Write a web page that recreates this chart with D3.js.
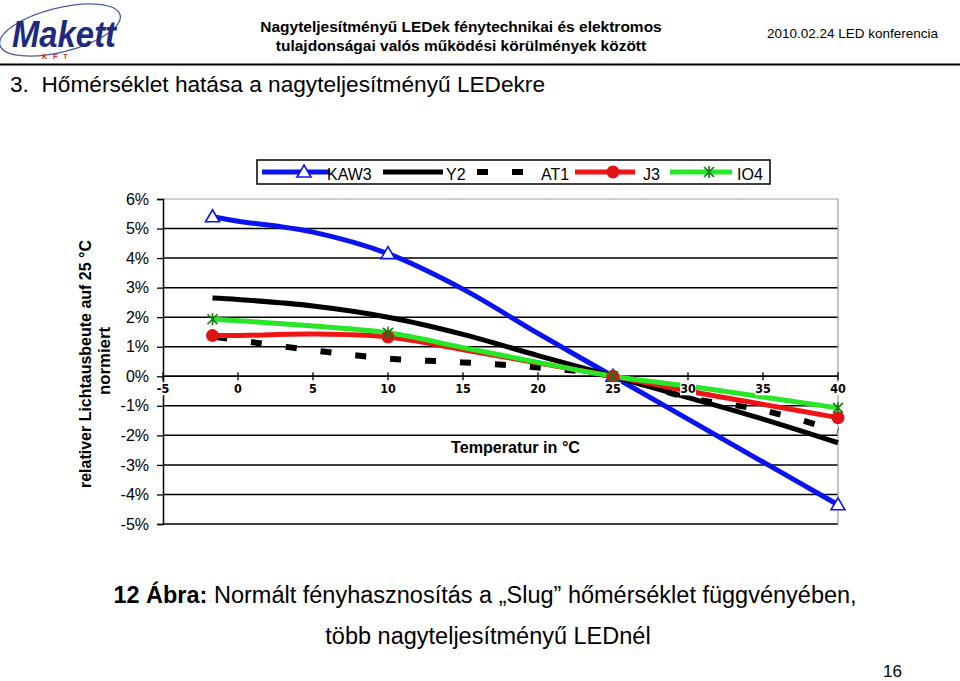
<!DOCTYPE html>
<html>
<head>
<meta charset="utf-8">
<script src="https://cdn.jsdelivr.net/npm/d3@7/dist/d3.min.js"></script>
<style>
  body { margin: 0; background: #fff; overflow: hidden; }
  svg { font-family: "Liberation Sans", Arial, sans-serif; }
</style>
</head>
<body>
<svg width="960" height="681"></svg>
<script>
// values (percent, relative to 25 °C)
const temps = [-1.7, 0, 5, 10, 15, 20, 25, 30, 35, 40];
const kaw3 = [5.4, 5.25, 4.88, 4.15, 2.95, 1.45, 0, -1.45, -2.9, -4.35];
const y2   = [2.65, 2.6, 2.38, 2.0, 1.42, 0.7, 0, -0.72, -1.45, -2.25];
const at1  = [1.35, 1.22, 0.88, 0.6, 0.47, 0.3, 0, -0.72, -1.15, -1.85];
const j3   = [1.38, 1.38, 1.43, 1.33, 0.9, 0.45, 0, -0.5, -0.95, -1.4];
const io4  = [1.93, 1.88, 1.7, 1.47, 0.97, 0.47, 0, -0.33, -0.7, -1.07];
const markerTemps = [-1.7, 10, 25, 40];
const xTicks = [-5, 0, 5, 10, 15, 20, 25, 30, 35, 40];
const yTicks = [-5, -4, -3, -2, -1, 0, 1, 2, 3, 4, 5, 6];

const series = [
  { name: "KAW3", values: kaw3, color: "#0a14f0", marker: "triangle" },
  { name: "Y2", values: y2, color: "#000", marker: null },
  { name: "AT1", values: at1, color: "#000", marker: null, dash: "11,24" },
  { name: "J3", values: j3, color: "#f01414", marker: "circle" },
  { name: "IO4", values: io4, color: "#28e628", marker: "star" }
];

const svg = d3.select("svg");

// ---- header ----
const logo = svg.append("g");
logo.append("ellipse")
  .attr("cx", 60).attr("cy", 30).attr("rx", 62).attr("ry", 22)
  .attr("transform", "rotate(-14,60,30)")
  .attr("fill", "none").attr("stroke", "#4a5aa8").attr("stroke-width", 1.3);
logo.append("text")
  .attr("x", 12).attr("y", 47)
  .attr("font-size", 36).attr("font-weight", "bold").attr("font-style", "italic")
  .attr("fill", "#1e2a80").attr("textLength", 104).attr("lengthAdjust", "spacingAndGlyphs")
  .text("Makett");
logo.append("text")
  .attr("x", 42).attr("y", 59).attr("font-size", 7).attr("font-weight", "bold")
  .attr("fill", "#e02020").attr("letter-spacing", 6)
  .text("KFT");

svg.append("text").attr("x", 461).attr("y", 32).attr("text-anchor", "middle")
  .attr("font-size", 15.5).attr("font-weight", "bold")
  .text("Nagyteljesítményű LEDek fénytechnikai és elektromos");
svg.append("text").attr("x", 461).attr("y", 51).attr("text-anchor", "middle")
  .attr("font-size", 15.5).attr("font-weight", "bold")
  .text("tulajdonságai valós működési körülmények között");
svg.append("text").attr("x", 938).attr("y", 38).attr("text-anchor", "end")
  .attr("font-size", 13.5)
  .text("2010.02.24 LED konferencia");
svg.append("line").attr("x1", 0).attr("x2", 960).attr("y1", 64.5).attr("y2", 64.5)
  .attr("stroke", "#000").attr("stroke-width", 2);
svg.append("text").attr("x", 10).attr("y", 92)
  .attr("font-size", 22).attr("xml:space", "preserve")
  .attr("textLength", 535).attr("lengthAdjust", "spacingAndGlyphs")
  .text("3.  Hőmérséklet hatása a nagyteljesítményű LEDekre");

// ---- chart ----
const x = d3.scaleLinear().domain([-5, 40]).range([163, 838]);
const y = d3.scaleLinear().domain([-5, 6]).range([524, 199]);

// gridlines
svg.append("g").selectAll("line")
  .data(yTicks)
  .join("line")
  .attr("x1", x(-5)).attr("x2", x(40))
  .attr("y1", d => y(d)).attr("y2", d => y(d))
  .attr("stroke", d => d === 6 ? "#a0a0a0" : "#000")
  .attr("stroke-width", d => d === 6 ? 1.2 : 1.5);
svg.append("line")
  .attr("x1", x(40)).attr("x2", x(40)).attr("y1", y(6)).attr("y2", y(-5))
  .attr("stroke", "#a0a0a0").attr("stroke-width", 1.2);

// y axis
const yAxis = svg.append("g")
  .attr("transform", `translate(${x(-5)},0)`)
  .call(d3.axisLeft(y).tickValues(yTicks).tickSize(6).tickPadding(8)
    .tickFormat(d => d + "%"));
yAxis.select(".domain").attr("stroke", "#000").attr("stroke-width", 1.5);
yAxis.selectAll(".tick line").attr("stroke", "#000").attr("stroke-width", 1.3);
yAxis.selectAll(".tick text").attr("font-size", 16).attr("fill", "#000")
  .attr("font-family", "Liberation Sans, Arial, sans-serif");

// y axis title
svg.append("text")
  .attr("transform", "translate(91,364) rotate(-90)")
  .attr("text-anchor", "middle").attr("font-size", 16).attr("font-weight", "bold")
  .attr("textLength", 248).attr("lengthAdjust", "spacingAndGlyphs")
  .text("relativer Lichtausbeute auf 25 °C");
svg.append("text")
  .attr("transform", "translate(110,361) rotate(-90)")
  .attr("text-anchor", "middle").attr("font-size", 16).attr("font-weight", "bold")
  .attr("textLength", 68).attr("lengthAdjust", "spacingAndGlyphs")
  .text("normiert");

// x axis line at 0 %
svg.append("line")
  .attr("x1", x(-5)).attr("x2", x(40)).attr("y1", y(0)).attr("y2", y(0))
  .attr("stroke", "#000").attr("stroke-width", 1.5);
svg.append("g").selectAll("line")
  .data(xTicks)
  .join("line")
  .attr("x1", d => x(d)).attr("x2", d => x(d))
  .attr("y1", y(0) - 4).attr("y2", y(0) + 4)
  .attr("stroke", "#000").attr("stroke-width", 1.3);

// series lines
const line = d3.line()
  .x((d, i) => x(temps[i]))
  .y(d => y(d))
  .curve(d3.curveCatmullRom.alpha(0.5));

svg.append("g").selectAll("path")
  .data(series)
  .join("path")
  .attr("d", d => line(d.values))
  .attr("fill", "none")
  .attr("stroke", d => d.color)
  .attr("stroke-width", d => d.dash ? 6 : 5)
  .attr("stroke-dasharray", d => d.dash || null)
  .attr("stroke-dashoffset", d => d.dash ? -4 : null);

// markers
function drawMarker(g, type, cx, cy) {
  if (type === "triangle") {
    g.append("path")
      .attr("d", `M${cx},${cy - 7}L${cx + 7},${cy + 5}L${cx - 7},${cy + 5}Z`)
      .attr("fill", "#fff").attr("stroke", "#0a14f0").attr("stroke-width", 1.6);
  } else if (type === "circle") {
    g.append("circle").attr("cx", cx).attr("cy", cy).attr("r", 6.5)
      .attr("fill", "#e01414");
  } else if (type === "star") {
    g.append("path")
      .attr("d", `M${cx - 5},${cy - 5}L${cx + 5},${cy + 5}M${cx + 5},${cy - 5}L${cx - 5},${cy + 5}M${cx},${cy - 6}L${cx},${cy + 6}`)
      .attr("stroke", "#127a12").attr("stroke-width", 1.6);
  }
}
const markers = svg.append("g");
series.filter(s => s.marker).forEach(s => {
  markerTemps.forEach(t => {
    const i = temps.indexOf(t);
    drawMarker(markers, s.marker, x(t), y(s.values[i]));
  });
});

// x tick labels with white boxes (sit on top of lines)
const xl = svg.append("g");
xTicks.forEach(t => {
  const g = xl.append("g").attr("transform", `translate(${x(t)},${y(0) + 17})`);
  g.append("rect").attr("x", -8).attr("y", -11).attr("width", 16).attr("height", 13)
    .attr("fill", "#fff");
  g.append("text").attr("text-anchor", "middle")
    .attr("font-size", 12.5).attr("font-weight", "bold")
    .attr("font-family", "Liberation Sans Narrow, DejaVu Sans Condensed, sans-serif")
    .text(t);
});

// x axis title
svg.append("text").attr("x", 451).attr("y", 453)
  .attr("font-size", 16).attr("font-weight", "bold")
  .attr("textLength", 129).attr("lengthAdjust", "spacingAndGlyphs")
  .text("Temperatur in °C");

// legend
const lg = svg.append("g");
lg.append("rect").attr("x", 257).attr("y", 160).attr("width", 513).attr("height", 24)
  .attr("fill", "#fff").attr("stroke", "#000").attr("stroke-width", 1.5);
const legendPos = [
  { x1: 262, x2: 330, tx: 327 },
  { x1: 383, x2: 443, tx: 446 },
  { x1: 477, x2: 523, tx: 541 },
  { x1: 575, x2: 635, tx: 643 },
  { x1: 670, x2: 732, tx: 737 }
];
series.forEach((s, i) => {
  const p = legendPos[i];
  lg.append("line").attr("x1", p.x1).attr("x2", p.x2).attr("y1", 172).attr("y2", 172)
    .attr("stroke", s.color).attr("stroke-width", s.dash ? 6 : 5)
    .attr("stroke-dasharray", s.dash ? "11,24" : null);
  if (s.marker) drawMarker(lg, s.marker, (p.x1 + p.x2) / 2 + 8, 172);
  lg.append("text").attr("x", p.tx).attr("y", 180).attr("font-size", 16)
    .text(s.name);
});

// ---- caption ----
const cap = svg.append("text").attr("x", 485).attr("y", 603).attr("text-anchor", "middle")
  .attr("font-size", 23.5);
cap.append("tspan").attr("font-weight", "bold").text("12 Ábra:");
cap.append("tspan").text(" Normált fényhasznosítás a „Slug” hőmérséklet függvényében,");
svg.append("text").attr("x", 488).attr("y", 644).attr("text-anchor", "middle")
  .attr("font-size", 23.5).text("több nagyteljesítményű LEDnél");
svg.append("text").attr("x", 902).attr("y", 677).attr("text-anchor", "end")
  .attr("font-size", 17).text("16");
</script>
</body>
</html>
